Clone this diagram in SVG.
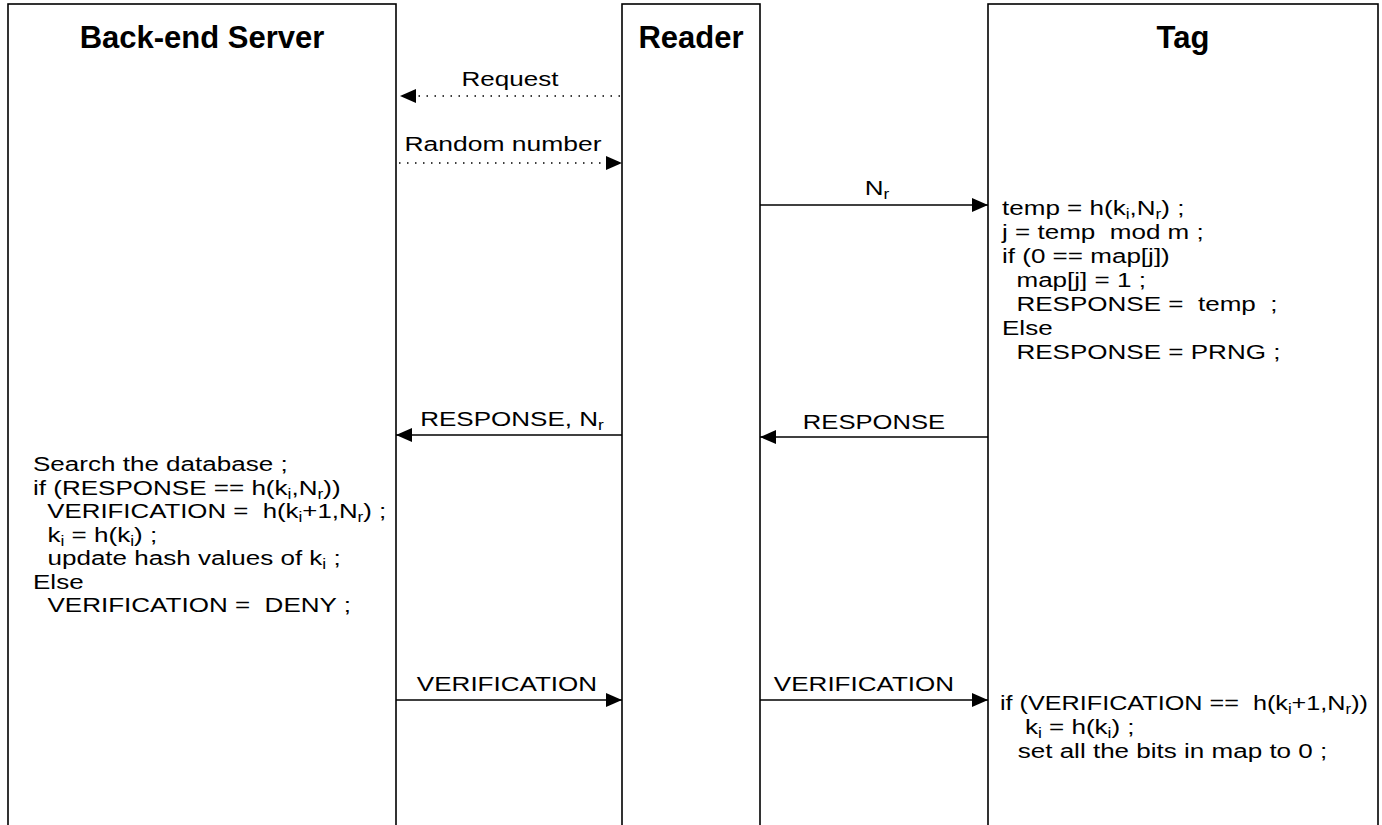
<svg xmlns="http://www.w3.org/2000/svg" width="1382" height="825" viewBox="0 0 1382 825">
<defs>
<style>
.box{fill:#fff;stroke:#000;stroke-width:1.6}
.title{font-family:"Liberation Sans",Arial,sans-serif;font-weight:bold;font-size:31px;text-anchor:middle;fill:#000}
.t{font-family:"Liberation Sans",Arial,sans-serif;font-size:21px;fill:#000;white-space:pre}
.lbl{font-family:"Liberation Sans",Arial,sans-serif;font-size:21px;fill:#000;text-anchor:middle;white-space:pre}
.solid{stroke:#000;stroke-width:1.6;fill:none}
.dot{stroke:#000;stroke-width:1.3;fill:none;stroke-dasharray:1.5 6.5}
.s{font-size:14px}
</style>
<marker id="ah" markerWidth="16" markerHeight="14" refX="16" refY="7" orient="auto" markerUnits="userSpaceOnUse">
<path d="M0,0 L16,7 L0,14 Z" fill="#000"/>
</marker>
</defs>
<rect width="1382" height="825" fill="#fff"/>

<g id="server">
<rect class="box" x="8" y="4" width="388" height="830"/>
<text class="title" x="202" y="48">Back-end Server</text>
<g transform="translate(33,471) scale(1.24,1)"><text class="t">Search the database ;</text></g>
<g transform="translate(33,495) scale(1.24,1)"><text class="t">if (RESPONSE == h(k<tspan class="s" dy="4">i</tspan><tspan dy="-4">,N</tspan><tspan class="s" dy="4">r</tspan><tspan dy="-4">))</tspan></text></g>
<g transform="translate(33,518) scale(1.23,1)"><text class="t">  VERIFICATION =  h(k<tspan class="s" dy="4">i</tspan><tspan dy="-4">+1,N</tspan><tspan class="s" dy="4">r</tspan><tspan dy="-4">) ;</tspan></text></g>
<g transform="translate(33,542) scale(1.24,1)"><text class="t">  k<tspan class="s" dy="4">i</tspan><tspan dy="-4"> = h(k</tspan><tspan class="s" dy="4">i</tspan><tspan dy="-4">) ;</tspan></text></g>
<g transform="translate(33,565) scale(1.24,1)"><text class="t">  update hash values of k<tspan class="s" dy="4">i</tspan><tspan dy="-4"> ;</tspan></text></g>
<g transform="translate(33,589) scale(1.24,1)"><text class="t">Else</text></g>
<g transform="translate(33,612) scale(1.24,1)"><text class="t">  VERIFICATION =  DENY ;</text></g>
</g>

<g id="reader">
<rect class="box" x="622" y="4" width="138" height="830"/>
<text class="title" x="691" y="48">Reader</text>
</g>

<g id="tag">
<rect class="box" x="988" y="4" width="390" height="830"/>
<text class="title" x="1183" y="48">Tag</text>
<g transform="translate(1002,215) scale(1.24,1)"><text class="t">temp = h(k<tspan class="s" dy="4">i</tspan><tspan dy="-4">,N</tspan><tspan class="s" dy="4">r</tspan><tspan dy="-4">) ;</tspan></text></g>
<g transform="translate(1002,239) scale(1.24,1)"><text class="t">j = temp  mod m ;</text></g>
<g transform="translate(1002,263) scale(1.24,1)"><text class="t">if (0 == map[j])</text></g>
<g transform="translate(1002,287) scale(1.24,1)"><text class="t">  map[j] = 1 ;</text></g>
<g transform="translate(1002,311) scale(1.24,1)"><text class="t">  RESPONSE =  temp  ;</text></g>
<g transform="translate(1002,335) scale(1.24,1)"><text class="t">Else</text></g>
<g transform="translate(1002,359) scale(1.24,1)"><text class="t">  RESPONSE = PRNG ;</text></g>
<g transform="translate(1000,710) scale(1.2,1)"><text class="t">if (VERIFICATION ==  h(k<tspan class="s" dy="4">i</tspan><tspan dy="-4">+1,N</tspan><tspan class="s" dy="4">r</tspan><tspan dy="-4">))</tspan></text></g>
<g transform="translate(996,734) scale(1.24,1)"><text class="t">    k<tspan class="s" dy="4">i</tspan><tspan dy="-4"> = h(k</tspan><tspan class="s" dy="4">i</tspan><tspan dy="-4">) ;</tspan></text></g>
<g transform="translate(996,758) scale(1.24,1)"><text class="t">   set all the bits in map to 0 ;</text></g>
</g>

<g id="connectors">
<line class="dot" x1="620" y1="96" x2="400" y2="96" marker-end="url(#ah)"/>
<g transform="translate(510,86) scale(1.24,1)"><text class="lbl">Request</text></g>
<line class="dot" x1="399" y1="163" x2="622" y2="163" marker-end="url(#ah)"/>
<g transform="translate(503,151) scale(1.26,1)"><text class="lbl">Random number</text></g>
<line class="solid" x1="760" y1="205" x2="988" y2="205" marker-end="url(#ah)"/>
<g transform="translate(877,195) scale(1.24,1)"><text class="lbl">N<tspan class="s" dy="4">r</tspan></text></g>
<line class="solid" x1="622" y1="435" x2="396" y2="435" marker-end="url(#ah)"/>
<g transform="translate(512,426) scale(1.24,1)"><text class="lbl">RESPONSE, N<tspan class="s" dy="4">r</tspan></text></g>
<line class="solid" x1="988" y1="437" x2="760" y2="437" marker-end="url(#ah)"/>
<g transform="translate(874,429) scale(1.22,1)"><text class="lbl">RESPONSE</text></g>
<line class="solid" x1="396" y1="700" x2="622" y2="700" marker-end="url(#ah)"/>
<g transform="translate(507,691) scale(1.24,1)"><text class="lbl">VERIFICATION</text></g>
<line class="solid" x1="760" y1="700" x2="988" y2="700" marker-end="url(#ah)"/>
<g transform="translate(864,691) scale(1.24,1)"><text class="lbl">VERIFICATION</text></g>
</g>
</svg>
